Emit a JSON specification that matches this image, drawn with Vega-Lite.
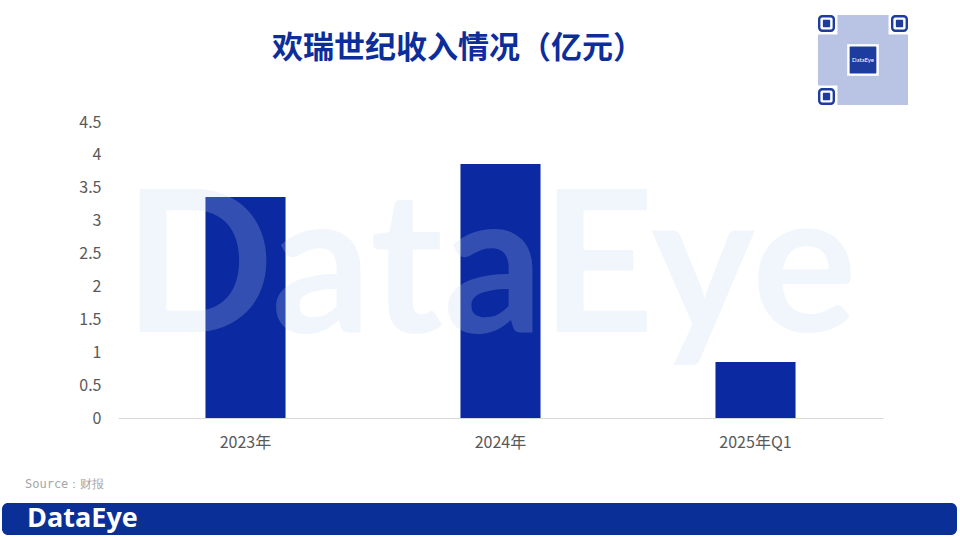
{
  "$schema": "https://vega.github.io/schema/vega-lite/v6.json",
  "background": "white",
  "padding": {"left": 2, "top": 15, "right": 0, "bottom": 4},
  "bounds": "full",
  "spacing": 9,
  "config": {"view": {"stroke": null}, "font": "Noto Sans CJK SC"},
  "vconcat": [
    {
      "hconcat": [
        {
          "width": 806,
          "height": 90,
          "data": {"values": [{"t": "欢瑞世纪收入情况（亿元）"}]},
          "mark": {"type": "text", "fontSize": 31, "fontWeight": "bold", "color": "#0d2e9a", "dx": 53, "dy": -11, "baseline": "middle", "font": "Noto Sans CJK SC"},
          "encoding": {"text": {"field": "t"}}
        },
        {
          "width": 90,
          "height": 90,
          "encoding": {
            "x": {"field": "a", "type": "quantitative", "scale": {"domain": [0, 37]}, "axis": null},
            "y": {"field": "c", "type": "quantitative", "scale": {"domain": [0, 37], "reverse": true}, "axis": null}
          },
          "layer": [
            {
              "data": {"values": [{"a": 0, "b": 37, "c": 0, "d": 37}]},
              "mark": {"type": "rect", "color": "#b9c3e3"},
              "encoding": {"x2": {"field": "b"}, "y2": {"field": "d"}}
            },
            {
              "data": {"values": [
                {"a": 0, "b": 8, "c": 0, "d": 8},
                {"a": 29, "b": 37, "c": 0, "d": 8},
                {"a": 0, "b": 8, "c": 29, "d": 37},
                {"a": 12, "b": 25, "c": 12, "d": 25}
              ]},
              "mark": {"type": "rect", "color": "white"},
              "encoding": {"x2": {"field": "b"}, "y2": {"field": "d"}}
            },
            {
              "data": {"values": [
                {"a": 0.5, "b": 6.5, "c": 0.5, "d": 6.5},
                {"a": 30.5, "b": 36.5, "c": 0.5, "d": 6.5},
                {"a": 0.5, "b": 6.5, "c": 30.5, "d": 36.5}
              ]},
              "mark": {"type": "rect", "fill": null, "stroke": "#1d3c9e", "strokeWidth": 2.4, "cornerRadius": 3},
              "encoding": {"x2": {"field": "b"}, "y2": {"field": "d"}}
            },
            {
              "data": {"values": [
                {"a": 2, "b": 5, "c": 2, "d": 5},
                {"a": 32, "b": 35, "c": 2, "d": 5},
                {"a": 2, "b": 5, "c": 32, "d": 35},
                {"a": 13, "b": 24, "c": 13, "d": 24}
              ]},
              "mark": {"type": "rect", "color": "#1d3c9e", "cornerRadius": 1},
              "encoding": {"x2": {"field": "b"}, "y2": {"field": "d"}}
            },
            {
              "data": {"values": [{"a": 18.5, "c": 18.5, "t": "DataEye"}]},
              "mark": {"type": "text", "color": "white", "fontSize": 6, "baseline": "middle", "font": "Lato"},
              "encoding": {"text": {"field": "t"}}
            }
          ]
        }
      ],
      "spacing": 10
    },
    {
      "hconcat": [
        {
          "width": 76,
          "height": 10,
          "data": {"values": [{"s": ""}]},
          "mark": {"type": "text"},
          "encoding": {"text": {"field": "s"}}
        },
        {
          "width": 765,
          "height": 296,
          "encoding": {
            "x": {
              "field": "period", "type": "nominal", "sort": null,
              "scale": {"paddingInner": 0.686, "paddingOuter": 0.343},
              "axis": {
                "title": ".", "titleOpacity": 0, "titleFontSize": 10, "titlePadding": 9,
                "labelAngle": 0, "labelFontSize": 16, "labelColor": "#595959", "labelPadding": 16,
                "ticks": false, "tickSize": 0, "domainColor": "#d9d9d9", "domainWidth": 1.2, "grid": false
              }
            },
            "y": {
              "field": "revenue", "type": "quantitative",
              "scale": {"domain": [0, 4.5], "nice": false},
              "axis": {
                "values": [0, 0.5, 1, 1.5, 2, 2.5, 3, 3.5, 4, 4.5], "format": "~g", "labelOverlap": false,
                "title": null,
                "labelFontSize": 16, "labelColor": "#595959", "labelPadding": 17,
                "ticks": false, "tickSize": 0, "domain": false, "grid": false
              }
            }
          },
          "layer": [
            {
              "data": {"values": [
                {"period": "2023年", "revenue": 3.36},
                {"period": "2024年", "revenue": 3.86},
                {"period": "2025年Q1", "revenue": 0.85}
              ]},
              "mark": {"type": "bar", "color": "#0b29a0"}
            },
            {
              "data": {"values": [{"period": "2024年", "revenue": 2.2, "label": "DataEye"}]},
              "mark": {"type": "text", "fontSize": 197, "fontWeight": "bold", "font": "Lato", "color": "#c0d8f0", "opacity": 0.22, "baseline": "middle", "dx": -10},
              "encoding": {"text": {"field": "label"}}
            }
          ]
        }
      ],
      "spacing": 0
    },
    {
      "width": 955,
      "height": 32,
      "view": {"fill": "#0a2f96", "cornerRadius": 6, "stroke": null},
      "title": {"text": "Source：财报", "anchor": "start", "orient": "top", "fontSize": 12, "fontWeight": "normal", "color": "#a6a6a6", "font": "DejaVu Sans Mono", "offset": 12, "dx": 23},
      "data": {"values": [{"label": "DataEye"}]},
      "mark": {"type": "text", "color": "white", "fontSize": 27, "fontWeight": "bold", "font": "Open Sans", "align": "left", "baseline": "middle", "dx": 25},
      "encoding": {
        "x": {"datum": 0, "type": "quantitative", "scale": {"domain": [0, 1]}, "axis": null},
        "text": {"field": "label"}
      }
    }
  ]
}
